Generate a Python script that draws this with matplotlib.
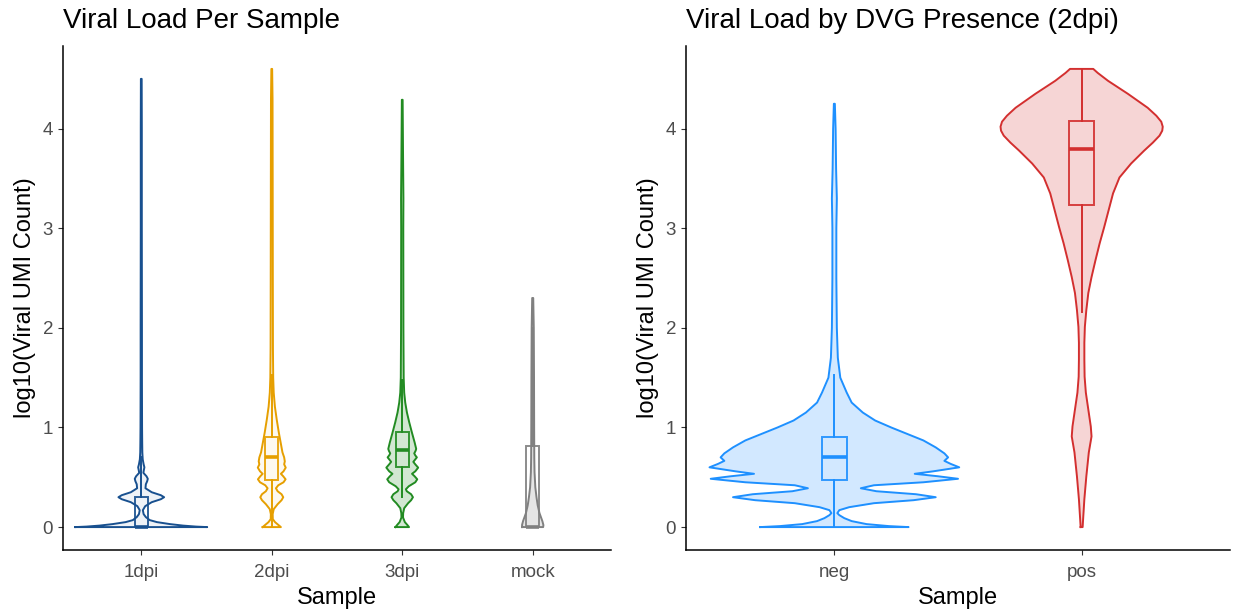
"""
Violin + box plots of viral load (log10 viral UMI count per cell),
per sample and split by DVG presence at 2dpi.
"""

import numpy as np
import matplotlib.pyplot as plt

plt.rcParams["font.family"] = ["Liberation Sans", "DejaVu Sans"]

# ---------------------------------------------------------------------------
# Data
# ---------------------------------------------------------------------------

samples    = ["1dpi", "2dpi", "3dpi", "mock"]
dvg_groups = ["neg", "pos"]

# Violin density profiles: log10 UMI level -> relative density
dpi1_level = [0.00, 0.005, 0.015, 0.03, 0.05, 0.07, 0.10, 0.13, 0.17, 0.21, 0.25, 0.28,
              0.30, 0.32, 0.35, 0.39, 0.43, 0.46, 0.485, 0.51, 0.545, 0.575, 0.60, 0.63,
              0.68, 0.75, 0.85, 1.0, 1.5, 2.0, 3.0, 4.0, 4.5]
dpi1_dens  = [50.5, 42.0, 32.0, 22.0, 12.0, 6.5, 3.5, 1.8, 1.2, 3.0, 8.0, 15.0,
              17.5, 15.0, 8.0, 3.2, 3.5, 4.5, 5.0, 4.0, 1.6, 2.0, 2.4, 1.8,
              1.1, 0.8, 0.7, 0.6, 0.5, 0.5, 0.4, 0.4, 0.3]

dpi2_level = [0.00, 0.02, 0.05, 0.08, 0.13, 0.18, 0.23, 0.27, 0.30, 0.33, 0.36, 0.39,
              0.42, 0.45, 0.48, 0.51, 0.535, 0.56, 0.597, 0.63, 0.66, 0.70, 0.75, 0.85,
              0.95, 1.08, 1.21, 1.35, 1.5, 1.8, 2.5, 3.5, 4.3, 4.6]
dpi2_dens  = [7.0, 5.2, 2.5, 0.8, 0.7, 1.5, 4.5, 7.5, 8.8, 7.5, 4.5, 3.2,
              5.0, 9.0, 10.6, 8.8, 7.0, 9.0, 10.7, 9.5, 10.0, 9.5, 8.2, 6.8,
              5.4, 3.8, 2.4, 1.5, 1.1, 0.9, 0.8, 0.7, 0.6, 0.3]

dpi3_level = [0.00, 0.02, 0.05, 0.097, 0.14, 0.19, 0.24, 0.27, 0.30, 0.33, 0.36, 0.38,
              0.41, 0.45, 0.48, 0.51, 0.535, 0.56, 0.597, 0.63, 0.655, 0.68, 0.70, 0.72,
              0.74, 0.765, 0.785, 0.85, 0.95, 1.05, 1.15, 1.25, 1.35, 1.5, 2.0, 3.0,
              3.3, 3.6, 4.29]
dpi3_dens  = [5.2, 4.0, 2.0, 0.6, 0.7, 1.5, 4.5, 6.8, 8.2, 6.8, 3.5, 2.8,
              5.0, 10.0, 11.5, 9.5, 7.5, 10.0, 12.2, 10.0, 8.5, 10.0, 11.2, 10.0,
              9.2, 10.2, 10.7, 9.5, 7.4, 5.4, 3.6, 2.3, 1.5, 1.1, 0.9, 0.8,
              0.9, 0.7, 0.3]

mock_level = [0.00, 0.02, 0.06, 0.14, 0.22, 0.30, 0.40, 0.55, 0.70, 1.0, 1.5, 2.0, 2.3]
mock_dens  = [8.0, 8.2, 7.4, 5.2, 3.8, 2.9, 2.0, 1.4, 1.2, 1.1, 1.0, 0.8, 0.4]

neg_level = [0.00, 0.01, 0.03, 0.06, 0.09, 0.12, 0.14, 0.17, 0.20, 0.24, 0.27, 0.30,
             0.33, 0.36, 0.39, 0.42, 0.45, 0.485, 0.51, 0.535, 0.56, 0.60, 0.635, 0.665,
             0.70, 0.74, 0.80, 0.87, 0.93, 1.00, 1.07, 1.15, 1.25, 1.35, 1.50, 1.70,
             2.0, 2.5, 3.0, 3.3, 3.6, 4.0, 4.25]
neg_dens  = [30.0, 22.0, 13.0, 7.0, 4.0, 2.0, 1.2, 2.0, 6.0, 16.0, 32.0, 41.0,
             33.0, 17.0, 10.7, 16.0, 36.0, 50.0, 42.0, 32.5, 40.0, 50.5, 47.0, 44.5,
             46.0, 44.5, 41.0, 36.0, 30.0, 23.0, 16.5, 11.5, 7.0, 5.0, 2.4, 1.4,
             1.0, 0.8, 0.8, 1.0, 0.7, 0.5, 0.2]

pos_level = [0.00, 0.28, 0.51, 0.75, 0.91, 1.01, 1.18, 1.35, 1.51, 1.68, 1.85, 2.01,
             2.18, 2.35, 2.51, 2.68, 2.85, 3.01, 3.18, 3.35, 3.51, 3.65, 3.78, 3.86,
             3.93, 3.98, 4.02, 4.07, 4.13, 4.21, 4.35, 4.48, 4.56, 4.60]
pos_dens  = [0.4, 1.1, 1.9, 2.9, 4.0, 3.7, 2.7, 1.7, 1.2, 1.1, 1.1, 1.3,
             1.9, 2.7, 4.0, 5.6, 7.3, 9.1, 10.9, 12.7, 15.3, 20.0, 25.3, 28.8,
             31.5, 32.6, 32.8, 32.2, 30.2, 26.7, 18.7, 10.7, 6.5, 4.7]

# Box statistics (log10 UMI)
sample_q1      = [0.000, 0.477, 0.602, 0.000]
sample_median  = [0.000, 0.699, 0.778, 0.000]
sample_q3      = [0.301, 0.903, 0.954, 0.810]
sample_whislo  = [0.000, 0.000, 0.301, 0.000]
sample_whishi  = [0.699, 1.531, 1.477, 2.000]

dvg_q1     = [0.477, 3.230]
dvg_median = [0.699, 3.793]
dvg_q3     = [0.903, 4.073]
dvg_whislo = [0.000, 2.157]
dvg_whishi = [1.531, 4.600]

# ---------------------------------------------------------------------------
# Style
# ---------------------------------------------------------------------------

sample_colors = ["#18508F", "#E69F00", "#228B22", "#808080"]
sample_alpha  = [0.07, 0.06, 0.2, 0.2]
dvg_colors    = ["#1E90FF", "#D32F2F"]
dvg_alpha     = [0.2, 0.2]

VIOLIN_WIDTH = 1.01
BOX_WIDTH    = 0.1
LINE_W       = 1.4

# ---------------------------------------------------------------------------
# Helpers
# ---------------------------------------------------------------------------


def draw_violin(ax, pos, level, dens, scale, color, alpha):
    level = np.asarray(level, dtype=float)
    half = np.asarray(dens, dtype=float) * scale
    ax.fill_betweenx(level, pos - half, pos + half, color=color,
                     alpha=alpha, lw=0, zorder=1)
    xs = np.concatenate([pos - half, (pos + half)[::-1], [pos - half[0]]])
    ys = np.concatenate([level, level[::-1], [level[0]]])
    ax.plot(xs, ys, color=color, lw=LINE_W, zorder=2, solid_joinstyle="round")


def draw_box(ax, pos, q1, med, q3, lo, hi, color):
    stats = [dict(q1=q1, med=med, q3=q3, whislo=lo, whishi=hi, fliers=[])]
    ax.bxp(stats, positions=[pos], widths=BOX_WIDTH, showcaps=False,
           showfliers=False, patch_artist=True, manage_ticks=False,
           boxprops=dict(facecolor="none", edgecolor=color, lw=LINE_W, alpha=0.9),
           whiskerprops=dict(color=color, lw=LINE_W),
           medianprops=dict(color=color, lw=2.6, solid_capstyle="butt"),
           zorder=3)


def style_axes(ax, labels, title):
    n = len(labels)
    ax.set_xlim(0.4, n + 0.6)
    ax.set_ylim(-0.23, 4.83)
    ax.set_xticks(np.arange(1, n + 1))
    ax.set_xticklabels(labels)
    ax.set_yticks([0, 1, 2, 3, 4])
    for side in ["top", "right"]:
        ax.spines[side].set_visible(False)
    for side in ["left", "bottom"]:
        ax.spines[side].set_linewidth(1.1)
        ax.spines[side].set_color("black")
    ax.tick_params(length=3.6, width=0.8, color="#333333", labelcolor="#4D4D4D",
                   labelsize=13.5, pad=3.5)
    ax.tick_params(axis="x", pad=6.2)
    ax.set_xlabel("Sample", fontsize=17, labelpad=4.5)
    ax.set_ylabel("log10(Viral UMI Count)", fontsize=17, labelpad=5)
    ax.set_title(title, loc="left", fontsize=20, pad=13)


# ---------------------------------------------------------------------------
# Plot
# ---------------------------------------------------------------------------

fig = plt.figure(figsize=(12.38, 6.11), dpi=100)
ax1 = fig.add_axes([63 / 1238, 61 / 611, 548 / 1238, 504 / 611])
ax2 = fig.add_axes([686 / 1238, 61 / 611, 544 / 1238, 504 / 611])

# Left panel: per sample
sample_profiles = [(dpi1_level, dpi1_dens), (dpi2_level, dpi2_dens),
                   (dpi3_level, dpi3_dens), (mock_level, mock_dens)]
scale = VIOLIN_WIDTH / 2 / max(max(d) for _, d in sample_profiles)
for i, (level, dens) in enumerate(sample_profiles):
    pos = i + 1
    draw_violin(ax1, pos, level, dens, scale, sample_colors[i], sample_alpha[i])
    draw_box(ax1, pos, sample_q1[i], sample_median[i], sample_q3[i],
             sample_whislo[i], sample_whishi[i], sample_colors[i])
style_axes(ax1, samples, "Viral Load Per Sample")

# Right panel: DVG presence at 2dpi
dvg_profiles = [(neg_level, neg_dens), (pos_level, pos_dens)]
scale = VIOLIN_WIDTH / 2 / max(max(d) for _, d in dvg_profiles)
for i, (level, dens) in enumerate(dvg_profiles):
    pos = i + 1
    draw_violin(ax2, pos, level, dens, scale, dvg_colors[i], dvg_alpha[i])
    draw_box(ax2, pos, dvg_q1[i], dvg_median[i], dvg_q3[i],
             dvg_whislo[i], dvg_whishi[i], dvg_colors[i])
style_axes(ax2, dvg_groups, "Viral Load by DVG Presence (2dpi)")

fig.savefig("out.png", dpi=100)
